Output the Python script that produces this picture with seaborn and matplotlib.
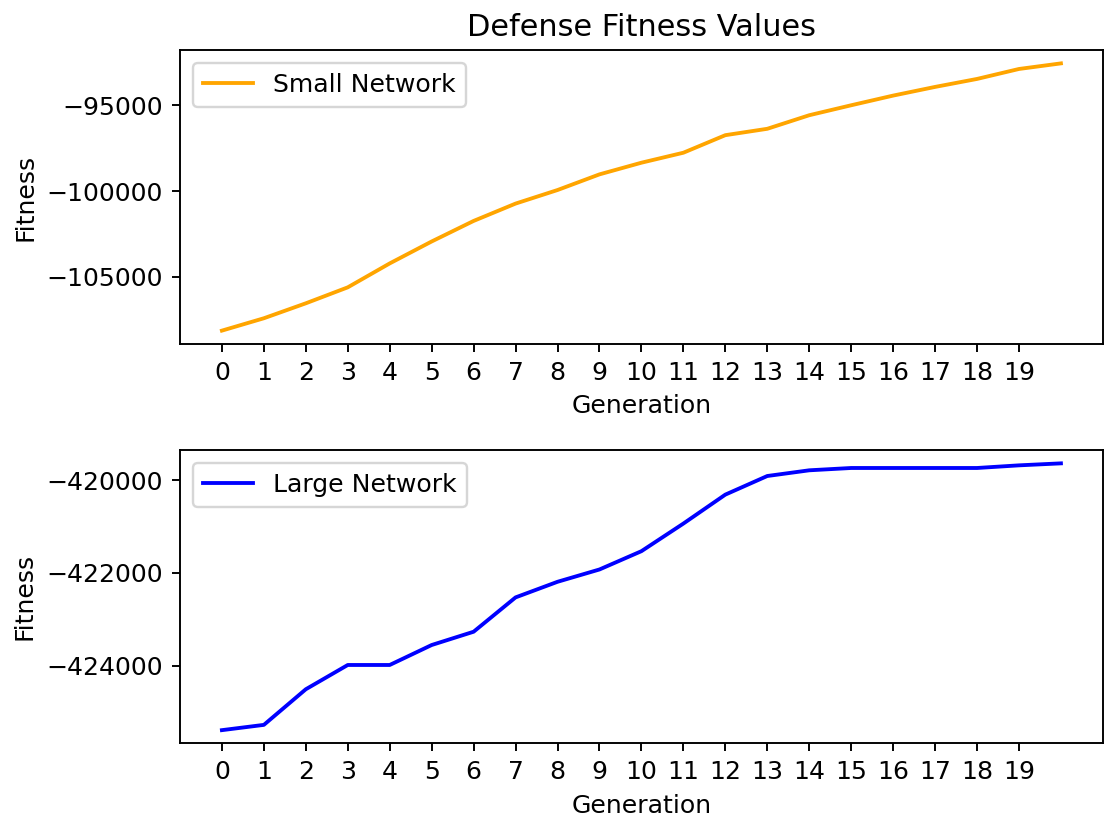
import matplotlib
matplotlib.use("Agg")
import matplotlib.pyplot as plt
import numpy as np
import pandas as pd
import seaborn as sns

generations = list(range(21))
tick_positions = list(range(20))

small_network = [-108140, -107419, -106547, -105616, -104221, -102942, -101744,
                 -100733, -99942, -99029, -98349, -97767, -96744, -96372,
                 -95581, -95000, -94436, -93930, -93465, -92884, -92558]

large_network = [-425394, -425280, -424511, -423987, -423987, -423556, -423269,
                 -422528, -422191, -421925, -421530, -420934, -420309, -419907,
                 -419784, -419734, -419734, -419734, -419734, -419677, -419634]

plt.rcParams['font.family'] = ['DejaVu Sans']
plt.rcParams['font.size'] = 10.5

dpi = 172.5
fig = plt.figure(figsize=(1104 / dpi, 820 / dpi), dpi=dpi)
ax1 = fig.add_axes([0.163, 0.5805, 0.836, 0.3585])
ax2 = fig.add_axes([0.163, 0.0933, 0.836, 0.3579])

df_small = pd.DataFrame({"Generation": generations, "Fitness": small_network})
df_large = pd.DataFrame({"Generation": generations, "Fitness": large_network})

sns.lineplot(data=df_small, x="Generation", y="Fitness", color="orange",
             linewidth=1.6, label="Small Network", ax=ax1)
sns.lineplot(data=df_large, x="Generation", y="Fitness", color="blue",
             linewidth=1.6, label="Large Network", ax=ax2)

ax1.set_title("Defense Fitness Values", fontsize=12.7)
for ax in (ax1, ax2):
    ax.set_xticks(tick_positions)
    ax.set_xlabel("Generation")
    ax.set_ylabel("Fitness")
    ax.margins(x=0.05, y=0.05)
    ax.legend(loc="upper left")

ax1.set_yticks([-105000, -100000, -95000])
ax2.set_yticks([-424000, -422000, -420000])

fig.savefig("out.png", dpi=dpi)
